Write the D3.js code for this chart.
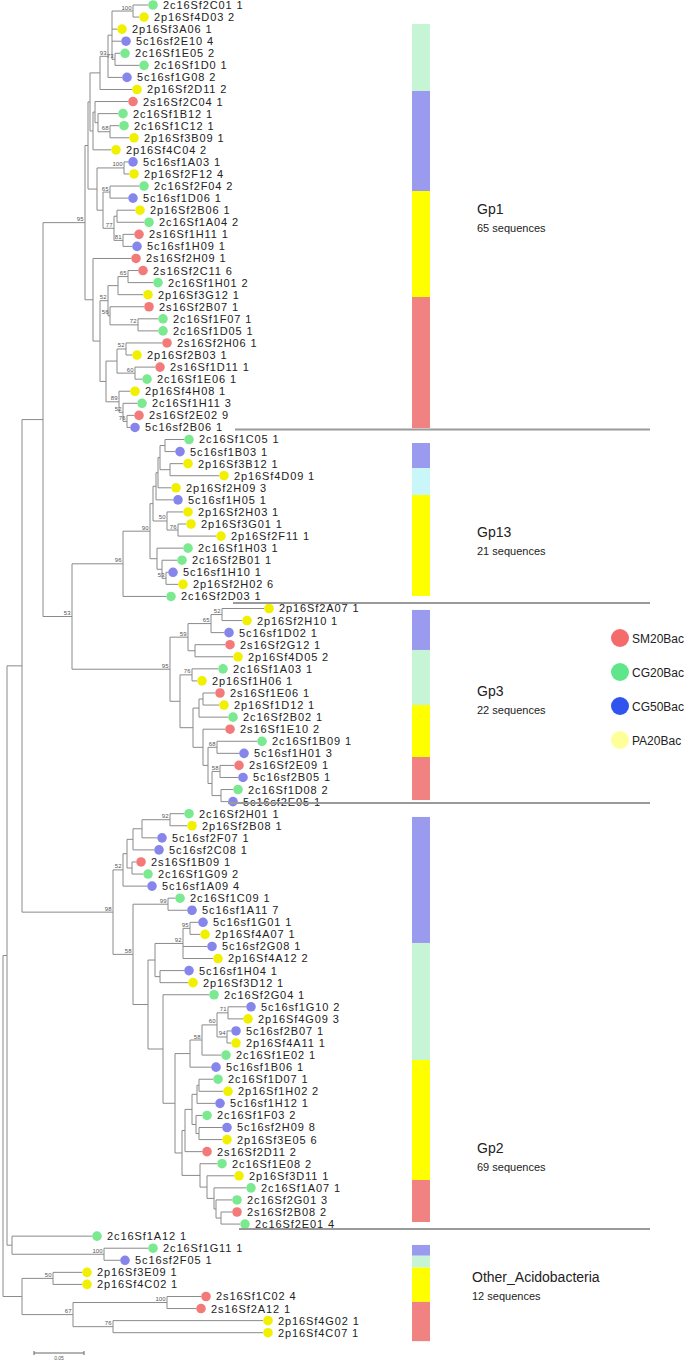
<!DOCTYPE html>
<html><head><meta charset="utf-8">
<script src="https://cdn.jsdelivr.net/npm/d3@7"></script>
<style>body{margin:0;background:#fff}svg{display:block}</style>
</head><body><svg id="c" width="687" height="1360"></svg>
<script>
// ---------------- DATA ----------------
const leafNames = [
"2c16Sf2C01 1","2p16Sf4D03 2","2p16Sf3A06 1","5c16sf2E10 4","2c16Sf1E05 2","2c16Sf1D0 1","5c16sf1G08 2","2p16Sf2D11 2",
"2s16Sf2C04 1","2c16Sf1B12 1","2c16Sf1C12 1","2p16Sf3B09 1","2p16Sf4C04 2","5c16sf1A03 1","2p16Sf2F12 4","2c16Sf2F04 2",
"5c16sf1D06 1","2p16Sf2B06 1","2c16Sf1A04 2","2s16Sf1H11 1","5c16sf1H09 1","2s16Sf2H09 1","2s16Sf2C11 6","2c16Sf1H01 2",
"2p16Sf3G12 1","2s16Sf2B07 1","2c16Sf1F07 1","2c16Sf1D05 1","2s16Sf2H06 1","2p16Sf2B03 1","2s16Sf1D11 1","2c16Sf1E06 1",
"2p16Sf4H08 1","2c16Sf1H11 3","2s16Sf2E02 9","5c16sf2B06 1",
"2c16Sf1C05 1","5c16sf1B03 1","2p16Sf3B12 1","2p16Sf4D09 1","2p16Sf2H09 3","5c16sf1H05 1","2p16Sf2H03 1","2p16Sf3G01 1",
"2p16Sf2F11 1","2c16Sf1H03 1","2c16Sf2B01 1","5c16sf1H10 1","2p16Sf2H02 6","2c16Sf2D03 1",
"2p16Sf2A07 1","2p16Sf2H10 1","5c16sf1D02 1","2s16Sf2G12 1","2p16Sf4D05 2","2c16Sf1A03 1","2p16Sf1H06 1","2s16Sf1E06 1",
"2p16Sf1D12 1","2c16Sf2B02 1","2s16Sf1E10 2","2c16Sf1B09 1","5c16sf1H01 3","2s16Sf2E09 1","5c16sf2B05 1","2c16Sf1D08 2",
"5c16sf2E05 1",
"2c16Sf2H01 1","2p16Sf2B08 1","5c16sf2F07 1","5c16sf2C08 1","2s16Sf1B09 1","2c16Sf1G09 2","5c16sf1A09 4","2c16Sf1C09 1",
"5c16sf1A11 7","5c16sf1G01 1","2p16Sf4A07 1","5c16sf2G08 1","2p16Sf4A12 2","5c16sf1H04 1","2p16Sf3D12 1","2c16Sf2G04 1",
"5c16sf1G10 2","2p16Sf4G09 3","5c16sf2B07 1","2p16Sf4A11 1","2c16Sf1E02 1","5c16sf1B06 1","2c16Sf1D07 1","2p16Sf1H02 2",
"5c16sf1H12 1","2c16Sf1F03 2","5c16sf2H09 8","2p16Sf3E05 6","2s16Sf2D11 2","2c16Sf1E08 2","2p16Sf3D11 1","2c16Sf1A07 1",
"2c16Sf2G01 3","2s16Sf2B08 2","2c16Sf2E01 4",
"2c16Sf1A12 1","2c16Sf1G11 1","5c16sf2F05 1","2p16Sf3E09 1","2p16Sf4C02 1","2s16Sf1C02 4","2s16Sf2A12 1","2p16Sf4G02 1",
"2p16Sf4C07 1"];

// Newick subtrees (leaf names = leaf number, internal labels = bootstrap, lengths = substitutions/site)
const gp1Upper = "((((((1:0.015,2:0.006)100:0.021,3:0.005,4:0.009,(5:0.005,6:0.024)73:0.003):0.004,7:0.014)93:0.008,8:0.032):0.010,((9:0.033,(10:0.020,(11:0.009,12:0.019)68:0.012):0.003):0.002,13:0.018):0.003):0.002,((14:0.004,15:0.005)100:0.027,((16:0.029,17:0.018)65:0.007,((18:0.018,19:0.027):0.003,(20:0.011,21:0.009)81:0.009)77:0.011):0.006):0.009):0.003";
const gp1Lower = "(22:0.038,((((23:0.010,24:0.025)65:0.010,25:0.025):0.010,(26:0.034,(27:0.020,28:0.020)72:0.028)56:0.002)52:0.008,(((29:0.036,30:0.006)52:0.009,(31:0.020,32:0.007)60:0.018):0.011,(33:0.011,(34:0.014,(35:0.007,36:0.003)76:0.004)52:0.004)89:0.013):0.006):0.007):0.008";
const gp13Tree = "(((((((37:0.019,38:0.010):0.005,(39:0.013,40:0.049):0.010):0.002,41:0.013):0.002,42:0.017):0.003,(43:0.016,(44:0.008,45:0.038)76:0.011)50:0.014):0.003,(46:0.026,(47:0.015,(48:0.002,49:0.012)53:0.004):0.005):0.007)90:0.027,50:0.043)96:0.051";
const gp3Tree = "((((51:0.042,52:0.020)52:0.011,53:0.013)65:0.023,(54:0.030,55:0.038):0.007)59:0.018,((56:0.026,57:0.005)76:0.012,(((58:0.012,59:0.016):0.004,60:0.029):0.006,(61:0.022,((62:0.040,63:0.022)68:0.009,((64:0.014,65:0.018)58:0.008,(66:0.012,67:0.007):0.009):0.004):0.005):0.010):0.013):0.010)95:0.098";
const gp2Upper = "(((((68:0.014,69:0.017)92:0.028,70:0.015):0.009,71:0.021):0.006,(72:0.004,73:0.011):0.005):0.004,74:0.024)52:0.010";
const gp2Lower = "((75:0.007,76:0.019)99:0.035,((((77:0.008,78:0.010)95:0.007,79:0.024,80:0.030)92:0.028,(81:0.024,82:0.028):0.005):0.007,(83:0.046,(((((84:0.018,85:0.015)71:0.011,(86:0.004,87:0.004)94:0.010)60:0.015,88:0.019)58:0.012,89:0.021):0.015,(((((90:0.014,91:0.024):0.002,92:0.018):0.005,(93:0.006,(94:0.023,95:0.023):0.003):0.004):0.007,96:0.017):0.003,(97:0.017,(98:0.027,(99:0.032,(100:0.016,(101:0.011,102:0.019):0.005):0.002):0.007):0.007):0.018):0.007):0.012):0.015):0.015)58:0.020";
const otherA = "(103:0.080,(104:0.044,105:0.016)100:0.092):0.005";
const otherB = "((106:0.029,107:0.029)50:0.031,((108:0.034,109:0.029)100:0.094,(110:0.150,111:0.150)76:0.040)67:0.051):0.019";

const categories   = ["SM20Bac","CG20Bac","CG50Bac","PA20Bac"];
const catPrefixes  = ["2s","2c","5c","2p"];

const groupNames   = ["Gp1","Gp13","Gp3","Gp2","Other_Acidobacteria"];
const groupCounts  = [65,21,22,69,12];
const groupLastLeaf= [36,50,67,102,111];
// composition bar segments per group: [colour key, share]
const groupBars = [
  [["mint",67],["blue",100],["yellow",106],["red",131]],
  [["blue",25],["cyan",27],["yellow",101]],
  [["blue",40],["mint",55],["yellow",52],["red",43]],
  [["blue",126],["mint",117],["yellow",120],["red",42]],
  [["blue",11],["mint",12],["yellow",35],["red",40]]
];
const barSpan = [[1.57,35.05],[36.29,48.96],[50.12,65.87],[67.27,100.83],[102.73,110.7]]; // in leaf-row units
const scaleBarValue = 0.05;

// ---------------- LAYOUT ----------------
const newick = `(((((${gp1Upper},${gp1Lower})95:0.042,(${gp13Tree},${gp3Tree})53:0.029):0.021,(${gp2Upper},${gp2Lower})98:0.091):0.015,${otherA}):0.004,${otherB});`;

function parseNewick(s){
  let i=0;
  function node(){
    const n={};
    if(s[i]==='('){ i++; n.children=[node()]; while(s[i]===','){i++;n.children.push(node());} i++; }
    let name=''; while(i<s.length && !':,();'.includes(s[i])) name+=s[i++];
    n.name=name.trim();
    if(s[i]===':'){ i++; let num=''; while(i<s.length && !',();'.includes(s[i])) num+=s[i++]; n.length=+num; } else n.length=0;
    return n;
  }
  return node();
}

const dotColor = {SM20Bac:"#f47a7a",CG20Bac:"#7ae98f",CG50Bac:"#8585ec",PA20Bac:"#f0f000"};
const legendColor = {SM20Bac:"#f36b6b",CG20Bac:"#5fe68b",CG50Bac:"#2f55ee",PA20Bac:"#ffff99"};
const barColor = {mint:"#c6f5d6",blue:"#9a9aee",yellow:"#ffff00",red:"#f08282",cyan:"#c9f6f8"};
const FONT = "Liberation Sans, Arial, sans-serif";

const svg = d3.select("#c");
svg.append("rect").attr("width",687).attr("height",1360).attr("fill","#fff");

const root = d3.hierarchy(parseNewick(newick));
root.eachBefore(d=>{ d.dist = d.parent ? d.parent.dist + d.data.length : 0; });
const x = d3.scaleLinear().domain([0,0.1]).range([3,103]);
const y = d3.scaleLinear().domain([0,110]).range([5,1332.7]);
root.eachAfter(d=>{
  if(d.children){ d.yy=(d.children[0].yy+d.children[d.children.length-1].yy)/2; }
  else d.yy = y(+d.data.name-1);
});

const gTree = svg.append("g").attr("stroke","#8a8a8a").attr("stroke-width",1).attr("fill","none");
root.descendants().forEach(d=>{
  if(d.parent) gTree.append("line").attr("x1",x(d.parent.dist)).attr("x2",x(d.dist)).attr("y1",d.yy).attr("y2",d.yy);
  if(d.children) gTree.append("line").attr("x1",x(d.dist)).attr("x2",x(d.dist))
     .attr("y1",d.children[0].yy).attr("y2",d.children[d.children.length-1].yy);
});
// bootstrap
root.descendants().filter(d=>d.children && d.data.name).forEach(d=>{
  svg.append("text").attr("x",x(d.dist)-1.5).attr("y",d.yy-1.5).attr("text-anchor","end")
    .attr("font-family",FONT).attr("font-size",6).attr("fill","#555").text(d.data.name);
});
// leaves
function catOf(name){ return categories[catPrefixes.indexOf(name.slice(0,2))]; }
root.leaves().forEach(d=>{
  const nm = leafNames[+d.data.name-1];
  const cx = x(d.dist)+5;
  svg.append("circle").attr("cx",cx).attr("cy",d.yy).attr("r",4.8).attr("fill",dotColor[catOf(nm)]);
  svg.append("text").attr("x",cx+10).attr("y",d.yy).attr("dy","0.36em")
    .attr("font-family",FONT).attr("font-size",11).attr("letter-spacing","0.9px")
    .attr("fill","#222").text(nm);
});

// separators
groupLastLeaf.slice(0,4).forEach((li,k)=>{
  const yy = [y(li-1)+2, y(li-1)+6.5, y(li-1)+1.5, y(li-1)+5][k];
  const x0 = [235,233,228,239][k];
  svg.append("line").attr("x1",x0).attr("x2",650).attr("y1",yy).attr("y2",yy).attr("stroke","#9a9a9a").attr("stroke-width",2);
});
// bars
groupBars.forEach((segs,k)=>{
  const tot = d3.sum(segs,s=>s[1]);
  const y0 = y(barSpan[k][0]), y1 = y(barSpan[k][1]);
  const sc = d3.scaleLinear().domain([0,tot]).range([y0,y1]);
  let acc=0;
  segs.forEach(s=>{
    svg.append("rect").attr("x",412).attr("width",18).attr("y",sc(acc)).attr("height",sc(acc+s[1])-sc(acc)).attr("fill",barColor[s[0]]);
    acc+=s[1];
  });
});
// group labels
const labelRow = [16.9,43.7,56.8,94.7,105.4];
groupNames.forEach((g,k)=>{
  const ly = y(labelRow[k]);
  const lx = k===4 ? 472 : 477;
  svg.append("text").attr("x",lx).attr("y",ly+5).attr("font-family",FONT).attr("font-size",14).attr("fill","#222").text(g);
  svg.append("text").attr("x",lx).attr("y",ly+23).attr("font-family",FONT).attr("font-size",11).attr("fill","#222").text(groupCounts[k]+" sequences");
});
// legend
categories.forEach((c,i)=>{
  const cy = 638+34*i;
  svg.append("circle").attr("cx",620).attr("cy",cy).attr("r",9).attr("fill",legendColor[c]);
  svg.append("text").attr("x",632).attr("y",cy+4.5).attr("font-family",FONT).attr("font-size",12).attr("fill","#222").text(c);
});
// scale bar
const sb0 = 34, sb1 = sb0 + (x(scaleBarValue)-x(0));
svg.append("line").attr("x1",sb0).attr("x2",sb1).attr("y1",1353).attr("y2",1353).attr("stroke","#666");
[sb0,sb1].forEach(v=>svg.append("line").attr("x1",v).attr("x2",v).attr("y1",1351).attr("y2",1355).attr("stroke","#666"));
svg.append("text").attr("x",(sb0+sb1)/2).attr("y",1360).attr("text-anchor","middle").attr("font-family",FONT).attr("font-size",5).attr("fill","#555").text(scaleBarValue.toFixed(2));
</script></body></html>
